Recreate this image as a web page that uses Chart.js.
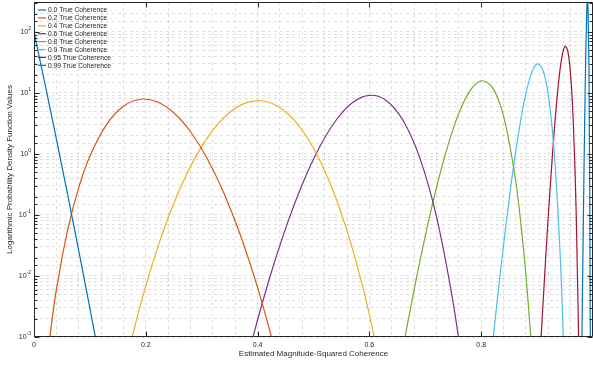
<!DOCTYPE html>
<html lang="en">
<head>
<meta charset="UTF-8">
<title>Estimated Magnitude-Squared Coherence PDFs</title>
<script src="https://cdn.jsdelivr.net/npm/chart.js"></script>
<style>
  html, body { margin: 0; padding: 0; background: #fff; }
  #wrap { width: 593px; height: 365px; }
</style>
</head>
<body>
<div id="wrap"><canvas id="pdfChart" width="593" height="365"></canvas></div>
<script>
  // legend text and MATLAB default line colours
  const seriesNames = ['0.0 True Coherence', '0.2 True Coherence', '0.4 True Coherence', '0.6 True Coherence',
    '0.8 True Coherence', '0.9 True Coherence', '0.95 True Coherence', '0.99 True Coherence'];
  const seriesColors = ['#0072BD', '#D95319', '#EDB120', '#7E2F8E', '#77AC30', '#4DBEEE', '#A2142F', '#0072BD'];

  // values (pdf on a log axis)
  const x00 = [0, 0.01, 0.02, 0.04, 0.06, 0.08, 0.10, 0.12];
  const y00 = [100, 36.9, 13.5, 1.76, 0.219, 0.0260, 0.00295, 0.000319];

  const x02 = [0.02, 0.03, 0.04, 0.06, 0.08, 0.10, 0.13, 0.16, 0.19, 0.22, 0.25, 0.28, 0.31, 0.34, 0.37, 0.40, 0.43];
  const y02 = [0.000191, 0.00131, 0.0059, 0.056, 0.281, 0.916, 3.05, 6.04, 7.87, 7.18, 4.73, 2.31, 0.834, 0.225, 0.0448, 0.00649, 0.000671];

  const x04 = [0.16, 0.18, 0.20, 0.23, 0.26, 0.29, 0.32, 0.35, 0.38, 0.41, 0.44, 0.47, 0.50, 0.53, 0.56, 0.59, 0.62];
  const y04 = [0.000243, 0.00144, 0.00687, 0.0507, 0.257, 0.929, 2.45, 4.79, 6.92, 7.38, 5.74, 3.20, 1.24, 0.327, 0.0555, 0.0057, 0.000328];

  const x06 = [0.37, 0.39, 0.42, 0.45, 0.48, 0.51, 0.54, 0.57, 0.60, 0.63, 0.66, 0.69, 0.72, 0.75, 0.77];
  const y06 = [0.000168, 0.000879, 0.00834, 0.0596, 0.318, 1.25, 3.53, 6.97, 9.14, 7.52, 3.56, 0.871, 0.0938, 0.00356, 0.000193];

  const x08 = [0.645, 0.66, 0.68, 0.70, 0.72, 0.74, 0.76, 0.78, 0.80, 0.82, 0.84, 0.86, 0.87, 0.88, 0.89, 0.90];
  const y08 = [0.00011, 0.000647, 0.00597, 0.0456, 0.281, 1.33, 4.62, 10.9, 15.8, 12.3, 4.18, 0.46, 0.0871, 0.0103, 0.000665, 0.000021];

  const x09 = [0.81, 0.82, 0.835, 0.85, 0.86, 0.87, 0.88, 0.89, 0.90, 0.91, 0.92, 0.93, 0.94, 0.945, 0.95];
  const y09 = [0.0000927, 0.000719, 0.013, 0.18, 0.853, 3.30, 9.82, 21.1, 29.9, 24.2, 9.29, 1.26, 0.0384, 0.00309, 0.000123];

  const x095 = [0.90, 0.91, 0.92, 0.93, 0.935, 0.94, 0.945, 0.95, 0.955, 0.96, 0.965, 0.97, 0.975];
  const y095 = [0.0000632, 0.00286, 0.0962, 2.02, 7.13, 20.1, 41.6, 58.2, 48.1, 19.4, 2.90, 0.101, 0.000399];

  const x099 = [0.979, 0.981, 0.983, 0.985, 0.987, 0.989, 0.990, 0.991, 0.993, 0.995, 0.996];
  const y099 = [0.000102, 0.00394, 0.125, 2.85, 40.0, 240, 330, 260, 16.3, 0.0027, 0.00000037];

  const xTickValues = [0, 0.2, 0.4, 0.6, 0.8, 1];
  const xTickLabels = ['0', '0.2', '0.4', '0.6', '0.8', ''];
  const yTickExponents = [-3, -2, -1, 0, 1, 2];

  const xTitle = 'Estimated Magnitude-Squared Coherence';
  const yTitle = 'Logarithmic Probability Density Function Values';

  const FONT = "'Liberation Sans', Arial, Helvetica, sans-serif";
  const INK = '#262626';

  const seriesX = [x00, x02, x04, x06, x08, x09, x095, x099];
  const seriesY = [y00, y02, y04, y06, y08, y09, y095, y099];

  const datasets = seriesNames.map((name, i) => ({
    label: name,
    data: seriesX[i].map((x, k) => ({ x, y: seriesY[i][k] })),
    borderColor: seriesColors[i],
    borderWidth: 1.2,
    pointRadius: 0,
    fill: false,
    tension: 0.35
  }));

  // axis text, inward ticks, box and the legend, MATLAB style
  const matlabAxes = {
    id: 'matlabAxes',
    afterDatasetsDraw(chart) {
      const { ctx, chartArea: a, scales: { x, y } } = chart;
      const L = Math.round(a.left) + 0.5, R = Math.round(a.right) - 0.5;
      const T = Math.round(a.top) + 0.5, B = Math.round(a.bottom) - 0.5;
      ctx.save();
      ctx.strokeStyle = INK;
      ctx.lineWidth = 1;

      // box
      ctx.beginPath();
      ctx.moveTo(L, T); ctx.lineTo(R, T); ctx.lineTo(R, B); ctx.lineTo(L, B); ctx.closePath();
      ctx.stroke();

      // x ticks (major only)
      ctx.beginPath();
      xTickValues.forEach(v => {
        const px = Math.round(x.getPixelForValue(v)) + 0.5;
        ctx.moveTo(px, B); ctx.lineTo(px, B - 5);
        ctx.moveTo(px, T); ctx.lineTo(px, T + 5);
      });
      // y ticks, decades long and 2..9 short
      y.ticks.forEach(t => {
        if (t.value > y.max * 0.999) return;
        const e = Math.log10(t.value);
        const len = Math.abs(e - Math.round(e)) < 1e-6 ? 5 : 3;
        const py = Math.round(y.getPixelForValue(t.value)) + 0.5;
        ctx.moveTo(L, py); ctx.lineTo(L + len, py);
        ctx.moveTo(R, py); ctx.lineTo(R - len, py);
      });
      ctx.stroke();

      // x tick labels
      ctx.fillStyle = INK;
      ctx.font = '7px ' + FONT;
      ctx.textAlign = 'center';
      ctx.textBaseline = 'middle';
      xTickValues.forEach((v, i) => {
        ctx.fillText(xTickLabels[i], x.getPixelForValue(v), a.bottom + 8);
      });

      // y tick labels 10^n
      yTickExponents.forEach(n => {
        const py = y.getPixelForValue(Math.pow(10, n));
        const sup = n < 0 ? '-' + Math.abs(n) : String(n);
        ctx.font = '5px ' + FONT;
        const wSup = ctx.measureText(sup).width;
        ctx.textAlign = 'left';
        ctx.fillText(sup, a.left - 3 - wSup, py - 3);
        ctx.font = '7px ' + FONT;
        ctx.textAlign = 'right';
        ctx.fillText('10', a.left - 3 - wSup, py);
      });

      // titles
      ctx.font = '8px ' + FONT;
      ctx.textAlign = 'center';
      ctx.fillText(xTitle, (a.left + a.right) / 2, a.bottom + 17);
      ctx.save();
      ctx.translate(10, (a.top + a.bottom) / 2);
      ctx.rotate(-Math.PI / 2);
      ctx.fillText(yTitle, 0, 0);
      ctx.restore();

      // legend, no box
      ctx.font = '6.7px ' + FONT;
      ctx.textAlign = 'left';
      chart.data.datasets.forEach((ds, i) => {
        const ly = 10 + i * 7.9;
        ctx.strokeStyle = ds.borderColor;
        ctx.lineWidth = 1.2;
        ctx.beginPath();
        ctx.moveTo(38, ly); ctx.lineTo(46, ly);
        ctx.stroke();
        ctx.fillStyle = INK;
        ctx.fillText(ds.label, 48, ly + 0.5);
      });
      ctx.restore();
    }
  };

  new Chart(document.getElementById('pdfChart'), {
    type: 'line',
    data: { datasets },
    options: {
      responsive: false,
      animation: false,
      devicePixelRatio: 1,
      layout: { padding: { left: 34, top: 2, right: 0, bottom: 28 } },
      plugins: { legend: { display: false }, tooltip: { enabled: false } },
      scales: {
        x: {
          type: 'linear',
          min: 0,
          max: 1,
          ticks: { display: false, stepSize: 0.04 },
          grid: { color: 'rgba(0,0,0,0.12)', drawTicks: false, lineWidth: 1 },
          border: { display: false, dash: [3, 3] }
        },
        y: {
          type: 'logarithmic',
          min: 0.001,
          max: 309,
          ticks: { display: false },
          grid: { color: 'rgba(0,0,0,0.12)', drawTicks: false, lineWidth: 1 },
          border: { display: false, dash: [3, 3] }
        }
      }
    },
    plugins: [matlabAxes]
  });
</script>
</body>
</html>
